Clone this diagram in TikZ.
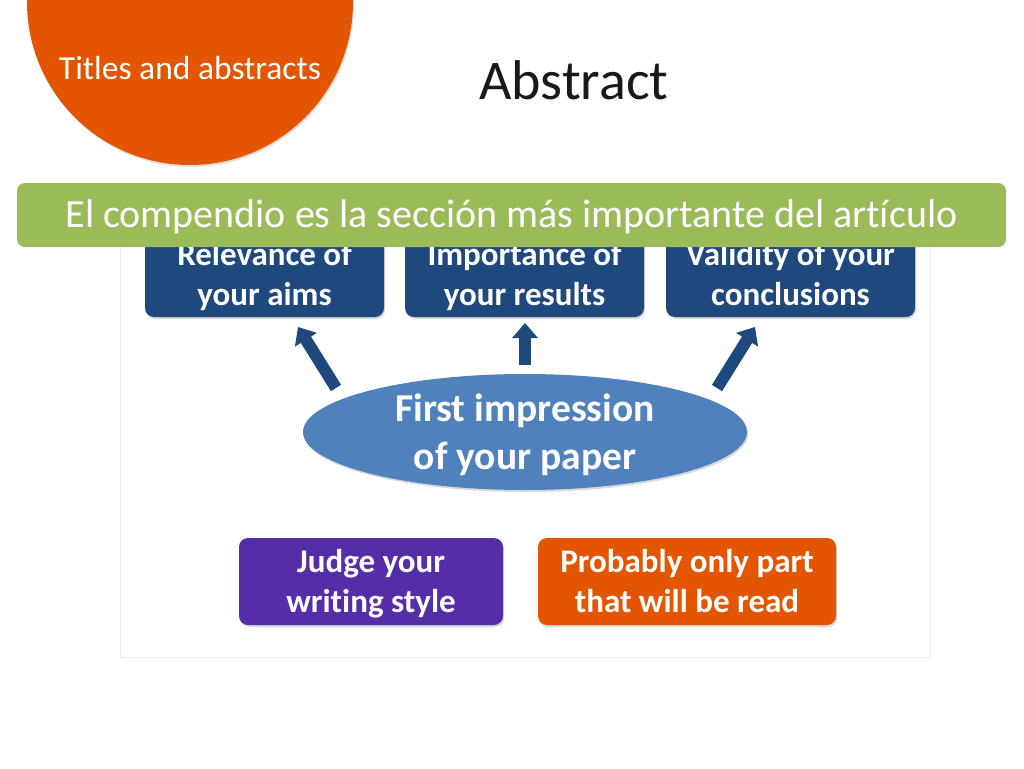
\documentclass[tikz,border=0pt]{standalone}
\usepackage{fontspec}
\setmainfont{Carlito}[Ligatures=CommonOff]
\usepackage{xcolor}
\usetikzlibrary{arrows.meta,shapes.geometric,shadows}
\definecolor{orangesect}{RGB}{228,85,0}
\definecolor{bannergreen}{RGB}{155,187,89}
\definecolor{boxblue}{RGB}{31,73,125}
\definecolor{ovalblue}{RGB}{79,129,189}
\definecolor{purplebox}{RGB}{86,45,168}
\definecolor{framegray}{RGB}{238,238,238}

\begin{document}
\begin{tikzpicture}[x=1pt,y=-1pt,line cap=round,line join=round,
    aimbox/.style={rectangle,rounded corners=9pt,fill=boxblue,text=white,
        align=center,minimum width=239pt,minimum height=86pt,inner sep=0pt,
        text depth=0pt,font=\bfseries\fontsize{33}{40}\selectfont,
        drop shadow={opacity=0.3,shadow xshift=1pt,shadow yshift=-2pt}},
    notebox/.style={aimbox,minimum height=87pt,text depth=1pt},
    blockarrow/.style={line width=12pt,line cap=butt,color=boxblue,
        -{Triangle[length=15pt,width=25pt]}}]
    \clip (0,0) rectangle (1024,768);
    \fill[white] (0,0) rectangle (1024,768);
    % section marker
    \node[circle,fill=orangesect,minimum size=326pt,inner sep=0pt,
        drop shadow={opacity=0.25,shadow xshift=1pt,shadow yshift=-2pt}] (sect) at (190,2) {};
    \node[text=white,font=\fontsize{33.5}{40}\selectfont] (secttxt) at (190,68) {Titles and abstracts};
    \node[text=black!90,font=\fontsize{56}{66}\selectfont] (title) at (574,80) {Abstract};
    % frame
    \draw[framegray,line width=0.8pt] (120,225) rectangle (930,657);
    % top row
    \node[aimbox] (aims) at (264.5,274) {Relevance of\\your aims};
    \node[aimbox] (results) at (524.5,274) {Importance of\\your results};
    \node[aimbox,minimum width=249pt] (concl) at (790.5,274) {Validity of your\\conclusions};
    % banner
    \node[rectangle,rounded corners=8pt,fill=bannergreen,text=white,minimum width=989pt,
        minimum height=64pt,inner sep=0pt,text depth=2pt,font=\fontsize{40}{48}\selectfont] (banner) at (511.5,215)
        {El compendio es la sección más importante del artículo};
    % centre
    \node[ellipse,fill=ovalblue,text=white,minimum width=444pt,minimum height=116pt,inner sep=0pt,
        align=center,text depth=0pt,font=\bfseries\fontsize{39.5}{48}\selectfont,
        drop shadow={opacity=0.3,shadow xshift=1pt,shadow yshift=-2pt}] (impr) at (525,432)
        {First impression\\of your paper};
    \coordinate (tailL) at (336,388);
    \coordinate (tipL) at (298,327);
    \coordinate (tailM) at (525,365);
    \coordinate (tipM) at (525,323);
    \coordinate (tailR) at (717,388);
    \coordinate (tipR) at (755,327);
    \draw[blockarrow] (tailL) -- (tipL);
    \draw[blockarrow] (tailM) -- (tipM);
    \draw[blockarrow] (tailR) -- (tipR);
    % bottom row
    \node[notebox,fill=purplebox,minimum width=264pt] (style) at (371,581.5) {Judge your\\writing style};
    \node[notebox,fill=orangesect,minimum width=298pt] (read) at (687,581.5) {Probably only part\\that will be read};
\end{tikzpicture}
\end{document}
